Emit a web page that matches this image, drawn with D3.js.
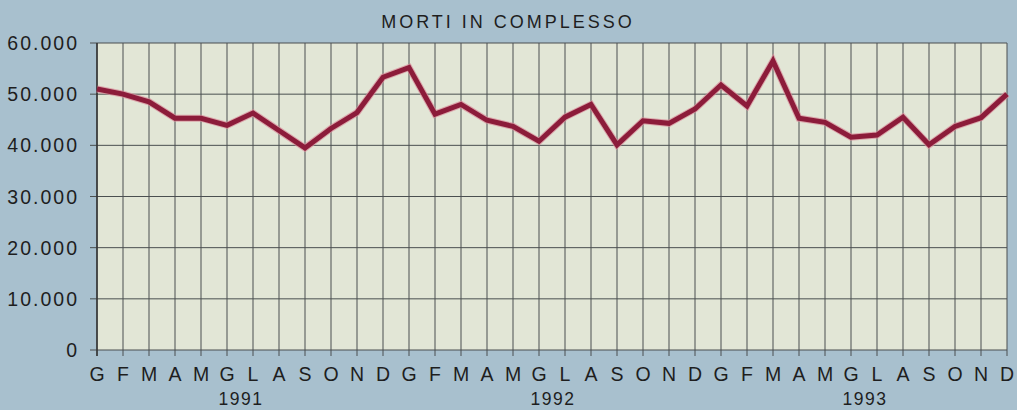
<!DOCTYPE html>
<html><head><meta charset="utf-8">
<script src="https://cdn.jsdelivr.net/npm/d3@7"></script>
<style>
html,body{margin:0;padding:0;background:#a8c0ce;}
svg{display:block;font-family:"Liberation Sans",Arial,sans-serif;}
</style></head>
<body><svg id="c" width="1017" height="410"></svg>
<script>
const title = "MORTI IN COMPLESSO";
const months = ["G","F","M","A","M","G","L","A","S","O","N","D"];
const years = ["1991","1992","1993"];
const values = [
  51000,50000,48500,45300,45300,43900,46300,42900,39500,43300,46400,53300,
  55200,46100,48000,44900,43700,40800,45500,48000,40100,44800,44300,47100,
  51800,47700,56500,45300,44500,41600,42000,45500,40100,43700,45400,50000
];
const yTicks = [0,10000,20000,30000,40000,50000,60000];

const svg = d3.select("#c");
const L = 97, R = 1007, T = 43, B = 350;
const x = d3.scaleLinear().domain([0, values.length-1]).range([L, R]);
const y = d3.scaleLinear().domain([0, 60000]).range([B, T]);
const fmt = d => d === 0 ? "0" : d3.format(",")(d).replace(/,/g, ".");

svg.append("rect").attr("x",L).attr("y",T).attr("width",R-L).attr("height",B-T).attr("fill","#e2e6d6");

// horizontal grid + ticks
svg.append("g").selectAll("line").data(yTicks).join("line")
  .attr("x1",L-7).attr("x2",R).attr("y1",d=>y(d)).attr("y2",d=>y(d))
  .attr("stroke","#4a4f50").attr("stroke-width",1);
// vertical grid
svg.append("g").selectAll("line").data(values).join("line")
  .attr("x1",(d,i)=>x(i)).attr("x2",(d,i)=>x(i)).attr("y1",T).attr("y2",B+6)
  .attr("stroke","#4a4f50").attr("stroke-width",1);
svg.append("line").attr("x1",L).attr("x2",L).attr("y1",T).attr("y2",B+6).attr("stroke","#333").attr("stroke-width",1.5);

// y labels
svg.append("g").selectAll("text").data(yTicks).join("text")
  .attr("x",79).attr("y",d=>y(d)+7).attr("text-anchor","end")
  .attr("font-size",19.5).attr("letter-spacing",2).attr("fill","#1e1e1e").text(fmt);

// month labels
svg.append("g").selectAll("text").data(values).join("text")
  .attr("x",(d,i)=>x(i)).attr("y",381).attr("text-anchor","middle")
  .attr("font-size",19.5).attr("fill","#1e1e1e").text((d,i)=>months[i%12]);
// year labels
svg.append("g").selectAll("text").data(years).join("text")
  .attr("x",(d,i)=>x(i*12+5.5)+1).attr("y",405).attr("text-anchor","middle")
  .attr("font-size",17.5).attr("letter-spacing",1.5).attr("fill","#1e1e1e").text(d=>d);

svg.append("text").attr("x",508).attr("y",28).attr("text-anchor","middle")
  .attr("font-size",18).attr("letter-spacing",3).attr("fill","#1e1e1e").text(title);

const line = d3.line().x((d,i)=>x(i)).y(d=>y(d));
svg.append("path").datum(values).attr("d",line).attr("fill","none")
  .attr("stroke","#d98a98").attr("stroke-width",7).attr("stroke-linejoin","miter").attr("opacity",0.7);
svg.append("path").datum(values).attr("d",line).attr("fill","none")
  .attr("stroke","#8c1c3a").attr("stroke-width",5).attr("stroke-linejoin","miter");
</script></body></html>
